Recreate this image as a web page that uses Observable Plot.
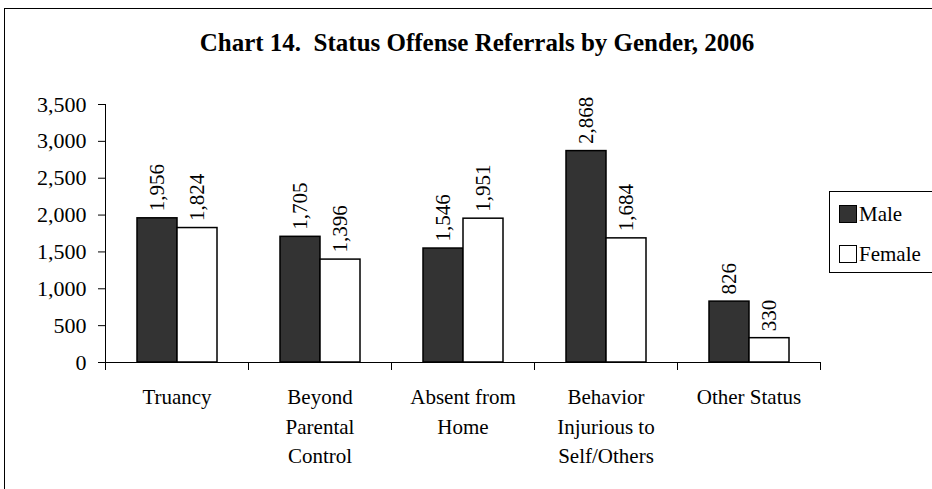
<!DOCTYPE html>
<html>
<head>
<meta charset="utf-8">
<script src="https://cdn.jsdelivr.net/npm/d3@7"></script>
<script src="https://cdn.jsdelivr.net/npm/@observablehq/plot@0.6"></script>
<style>
  body { margin: 0; background: #fff; }
  #wrap, #wrap * { font-family: "Liberation Serif", "Times New Roman", serif !important; }
  #wrap { position: relative; width: 932px; height: 489px; overflow: hidden; }
  #border { position: absolute; left: 4px; top: 8px; width: 1000px; height: 1000px; border: 1px solid #000; }
  #title { position: absolute; left: 0; width: 954px; top: 29px; text-align: center; font-weight: bold; font-size: 25px; white-space: pre; }
  #chart { position: absolute; left: 0; top: 0; }
  #legend { position: absolute; left: 829px; top: 191px; width: 120px; height: 80px; border: 1px solid #000; background: #fff; font-size: 21px; }
  .item { position: absolute; left: 9px; height: 24px; line-height: 24px; }
  .sw { display: inline-block; width: 16px; height: 16px; border: 1px solid #000; vertical-align: -2px; margin-right: 2px; }
</style>
</head>
<body>
<div id="wrap">
  <div id="border"></div>
  <div id="chart"></div>
  <div id="title"></div>
  <div id="legend"></div>
</div>
<script>
const title = "Chart 14.  Status Offense Referrals by Gender, 2006";
const categories = ["Truancy", "Beyond Parental Control", "Absent from Home", "Behavior Injurious to Self/Others", "Other Status"];
const categoryLabels = ["Truancy", "Beyond\nParental\nControl", "Absent from\nHome", "Behavior\nInjurious to\nSelf/Others", "Other Status"];
const series = ["Male", "Female"];
const male = [1956, 1705, 1546, 2868, 826];
const female = [1824, 1396, 1951, 1684, 330];
const yTicks = [0, 500, 1000, 1500, 2000, 2500, 3000, 3500];
const colors = ["#333333", "#ffffff"];

const data = [];
categories.forEach((c, i) => {
  data.push({category: c, gender: "Male", value: male[i]});
  data.push({category: c, gender: "Female", value: female[i]});
});
const labelRows = categories.map((c, i) => ({category: c, label: categoryLabels[i]}));

const font = '"Liberation Serif", "Times New Roman", serif';
const fmt = d3.format(",");

const chart = Plot.plot({
  width: 932,
  height: 489,
  marginLeft: 105,
  marginRight: 112,
  marginTop: 104,
  marginBottom: 127,
  style: {fontFamily: font, background: "transparent", color: "#000"},
  fx: {domain: categories, padding: 0, axis: null},
  x: {domain: series, paddingInner: 0, paddingOuter: 0.744, axis: null},
  y: {domain: [0, 3500], axis: null},
  color: {domain: series, range: colors},
  marks: [
    Plot.barY(data, {fx: "category", x: "gender", y: "value", fill: "gender", stroke: "#000", strokeWidth: 1.5}),
    Plot.text(data, {fx: "category", x: "gender", y: "value", text: d => fmt(d.value), rotate: -90, textAnchor: "start", dy: -7, fontSize: 21, fontFamily: font, fill: "#000"}),
    Plot.ruleY([0], {stroke: "#000", strokeWidth: 1}),
    Plot.frame({anchor: "left", facetAnchor: "left", stroke: "#000", strokeWidth: 1}),
    Plot.frame({anchor: "left", insetTop: 258, insetBottom: -7, stroke: "#000", strokeWidth: 1}),
    Plot.frame({anchor: "right", insetTop: 258, insetBottom: -7, stroke: "#000", strokeWidth: 1}),
    Plot.axisY({ticks: yTicks, tickFormat: fmt, tickSize: 7, tickPadding: 12, fontSize: 22, fontFamily: font, label: null, stroke: "#000"}),
    Plot.text(labelRows, {fx: "category", text: "label", frameAnchor: "bottom", lineAnchor: "top", dy: 21, lineHeight: 1.4, fontSize: 21, fontFamily: font, fill: "#000"})
  ]
});
document.getElementById("chart").appendChild(chart);
document.getElementById("title").textContent = title;

const legend = document.getElementById("legend");
series.forEach((s, i) => {
  const item = document.createElement("div");
  item.className = "item";
  item.style.top = (10 + i * 40) + "px";
  const sw = document.createElement("span");
  sw.className = "sw";
  sw.style.background = colors[i];
  item.appendChild(sw);
  item.appendChild(document.createTextNode(s));
  legend.appendChild(item);
});
</script>
</body>
</html>
